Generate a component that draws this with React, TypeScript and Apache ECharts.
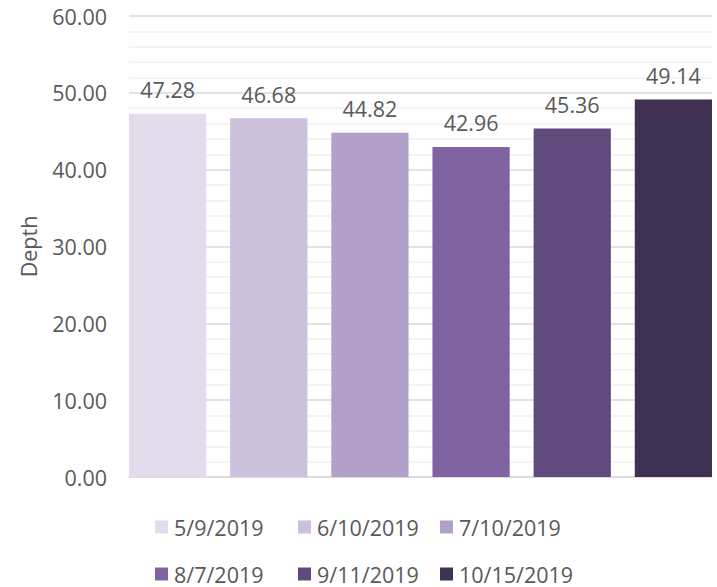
import React, { useEffect, useRef } from "react";
import * as echarts from "echarts";

const dates = ["5/9/2019", "6/10/2019", "7/10/2019", "8/7/2019", "9/11/2019", "10/15/2019"];
const depths = [47.28, 46.68, 44.82, 42.96, 45.36, 49.14];
const colors = ["#e2dced", "#cbc1dc", "#b1a0c8", "#8064a2", "#604a7b", "#3f3151"];
const legendCols = [155, 298, 440];
const legendRows = [516, 563];

const FONT = "'Open Sans', 'Liberation Sans', sans-serif";
const TEXT = "#595959";
const FS = 21.5;

export default function App() {
  const ref = useRef<HTMLDivElement>(null);
  useEffect(() => {
    if (!ref.current) return;
    const chart = echarts.init(ref.current, null, { renderer: "svg" });
    const legends = dates.map((d, i) => ({
      data: [d],
      left: legendCols[i % 3],
      top: legendRows[Math.floor(i / 3)],
      icon: "rect",
      itemWidth: 13,
      itemHeight: 13,
      itemGap: 0,
      padding: 0,
      textStyle: { color: TEXT, fontSize: FS, fontFamily: FONT, padding: [0, 0, 0, 1] },
    }));
    chart.setOption({
      animation: false,
      textStyle: { fontFamily: FONT },
      grid: { left: 129, right: 5, top: 16, bottom: 110 },
      legend: legends,
      xAxis: {
        type: "category",
        data: [""],
        axisLine: { show: true, lineStyle: { color: "#d9d9d9", width: 1.5 } },
        axisTick: { show: false },
        axisLabel: { show: false },
      },
      yAxis: {
        type: "value",
        min: 0,
        max: 60,
        interval: 10,
        name: "Depth",
        nameLocation: "middle",
        nameGap: 90,
        nameRotate: 90,
        nameTextStyle: { color: TEXT, fontSize: FS, fontFamily: FONT },
        axisLine: { show: false },
        axisTick: { show: false },
        axisLabel: {
          color: TEXT,
          fontSize: FS,
          fontFamily: FONT,
          margin: 22,
          formatter: (v: number) => v.toFixed(2),
        },
        splitLine: { show: true, lineStyle: { color: "#d9d9d9", width: 1.5 } },
        minorTick: { show: false, splitNumber: 5 },
        minorSplitLine: { show: true, lineStyle: { color: "#f0f0f0", width: 1.5 } },
      },
      series: dates.map((d, i) => ({
        name: d,
        type: "bar",
        data: [depths[i]],
        barGap: "31%",
        barCategoryGap: 0,
        itemStyle: { color: colors[i] },
        label: {
          show: true,
          position: "top",
          distance: 13,
          color: TEXT,
          fontSize: FS,
          fontFamily: FONT,
          formatter: (p: any) => Number(p.value).toFixed(2),
        },
      })),
    });
    return () => chart.dispose();
  }, []);
  return <div ref={ref} style={{ width: 717, height: 587, position: "absolute", left: 0, top: 0 }} />;
}
